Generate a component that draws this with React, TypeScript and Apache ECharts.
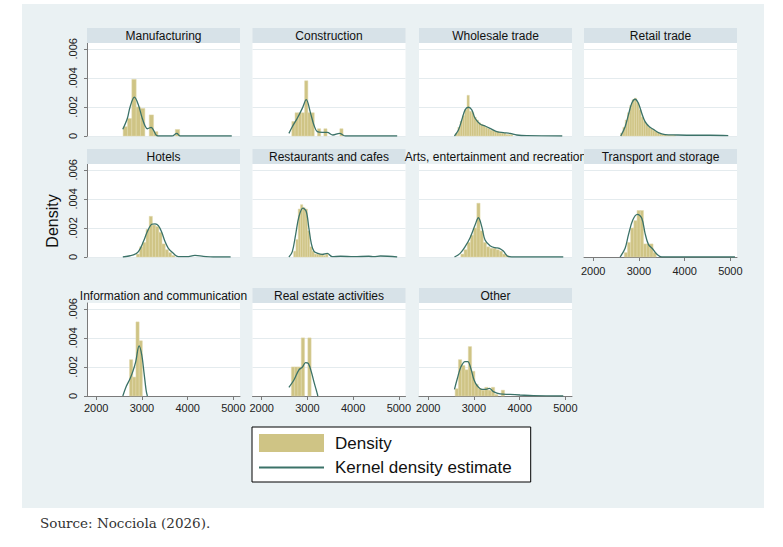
import React, { useEffect, useRef } from 'react';
import * as echarts from 'echarts';

// panel titles, in reading order (4 per row)
const panelTitles = [
  'Manufacturing', 'Construction', 'Wholesale trade', 'Retail trade',
  'Hotels', 'Restaurants and cafes', 'Arts, entertainment and recreation', 'Transport and storage',
  'Information and communication', 'Real estate activities', 'Other',
];

const xTickValues = [2000, 3000, 4000, 5000];
const xTickLabels = ['2000', '3000', '4000', '5000'];
const yTickValues = [0, 0.002, 0.004, 0.006];
const yTickLabels = ['0', '.002', '.004', '.006'];

// histogram bins: first edge and width per panel
const binStarts = [2590, 2660, 2600, 2600, 2880, 2700, 2715, 2680, 2730, 2650, 2590];
const binWidths = [95, 70, 50, 50, 70, 50, 70, 70, 70, 72, 72];

// bar heights (density)
const histManufacturing = [0.00064, 0.0012, 0.0039, 0.002, 0.0019, 0, 0.00145, 0.0003, 0, 0, 0, 0, 0.00045];
const histConstruction = [0.001, 0.0016, 0.0016, 0.0016, 0.0038, 0.0016, 0.0016, 0, 0.0005, 0, 0.0005, 0, 0, 0, 0, 0.0005];
const histWholesale = [0.0002, 0.0006, 0.001, 0.0014, 0.0018, 0.0028, 0.0017, 0.0016, 0.0013, 0.0011, 0.0009, 0.0008, 0.0007,
  0.0006, 0.0005, 0.0004, 0.0004, 0.0003, 0.0003, 0.0002, 0.0002, 0.0002, 0.0001, 0.0001, 0.0001];
const histRetail = [0.0002, 0.0006, 0.0011, 0.0016, 0.0021, 0.0025, 0.0026, 0.0023, 0.0018, 0.0013, 0.001, 0.0008, 0.0006,
  0.0005, 0.0004, 0.0003, 0.0002, 0.00015, 0.0001, 0.0001, 0.00005, 0.00005, 0.00005, 0.00005];
const histHotels = [0.0002, 0.0007, 0.001, 0.0019, 0.0028, 0.0022, 0.0021, 0.0017, 0.0009, 0.0005, 0.0003, 0.0001];
const histRestaurants = [0.0004, 0.0012, 0.0033, 0.0036, 0.0034, 0.0033, 0.0018, 0.0007, 0.0004, 0.0002, 0.0002, 0.0002, 0.0002, 0.0001, 0.0002];
const histArts = [0.0002, 0.0005, 0.001, 0.0015, 0.002, 0.0037, 0.0018, 0.001, 0.0007, 0.0006, 0.0006, 0.0005, 0.0004, 0.0002, 0.0001];
const histTransport = [0.0003, 0.001, 0.002, 0.0025, 0.0032, 0.0032, 0.0009, 0.0009, 0.0009, 0.0003];
const histInfo = [0.0025, 0.0013, 0.0051, 0.0038];
const histRealEstate = [0.002, 0.002, 0.002, 0.004, 0, 0.004];
const histOther = [0.0005, 0.0025, 0.0021, 0.0018, 0.0034, 0.0017, 0.0008, 0.0005, 0.0004, 0.0006, 0.0004, 0.0006, 0.0001, 0, 0.0004];

// kernel density estimate, [wage, density]
const kdeManufacturing = [[2583, 0.00046], [2683, 0.00122], [2742, 0.002], [2836, 0.00267], [2924, 0.00214], [2997, 0.00133],
  [3070, 0.00069], [3121, 0.0005], [3202, 0.0006], [3253, 0.00041], [3326, 0.00003], [3400, 0], [3655, 0], [3763, 0.00018],
  [3836, 0], [4965, 0]];
const kdeConstruction = [[2596, 0.00018], [2670, 0.00064], [2779, 0.00122], [2888, 0.0019], [2975, 0.0025], [3070, 0.00156],
  [3142, 0.00076], [3216, 0.0003], [3325, 0.00025], [3434, 0.00025], [3557, 0.00007], [3703, 0.00018], [3834, 0], [4963, 0]];
const kdeWholesale = [[2575, 0], [2662, 0.00041], [2735, 0.0011], [2808, 0.0018], [2880, 0.00198], [2954, 0.0018],
  [3026, 0.00122], [3135, 0.00083], [3244, 0.00069], [3353, 0.00053], [3500, 0.0003], [3644, 0.00023], [3790, 0.00018],
  [3936, 0.00007], [4155, 0.00002], [4932, 0]];
const kdeRetail = [[2604, 0], [2699, 0.00064], [2771, 0.00145], [2844, 0.00225], [2917, 0.00253], [2989, 0.00225],
  [3063, 0.00156], [3135, 0.00099], [3229, 0.00064], [3316, 0.00046], [3426, 0.00023], [3572, 0.0001], [3827, 0.00007],
  [4190, 0.00005], [4554, 0.00005], [4954, 0.00002]];
const kdeHotels = [[2583, 0], [2815, 0.00014], [2924, 0.00037], [3033, 0.00106], [3120, 0.00175], [3216, 0.00225],
  [3288, 0.00228], [3360, 0.00216], [3434, 0.0017], [3506, 0.00106], [3579, 0.0006], [3688, 0.00025], [3797, 0.00002],
  [3980, 0.00002], [4161, 0.00011], [4343, 0.00005], [4561, 0], [4940, 0]];
const kdeRestaurants = [[2596, 0], [2670, 0.00037], [2742, 0.00152], [2815, 0.00278], [2902, 0.00336], [2975, 0.00313],
  [3033, 0.00198], [3085, 0.00094], [3142, 0.00041], [3229, 0.00025], [3325, 0.00018], [3434, 0.00025], [3543, 0.00002],
  [3725, 0.00005], [4015, 0.00002], [4343, 0.00005], [4452, 0.00002], [4598, 0.00007], [4963, 0]];
const kdeArts = [[2575, 0], [2699, 0.00025], [2808, 0.00071], [2917, 0.00133], [3026, 0.0022], [3099, 0.0027], [3172, 0.00209],
  [3244, 0.00117], [3353, 0.00078], [3463, 0.00064], [3557, 0.0006], [3644, 0.00041], [3732, 0.00007], [3827, 0], [4954, 0]];
const kdeTransport = [[2589, 0], [2699, 0.0006], [2771, 0.00152], [2866, 0.00255], [2967, 0.00294], [3063, 0.00267],
  [3135, 0.00163], [3208, 0.00087], [3303, 0.00055], [3390, 0.0002], [3499, 0], [5100, 0]];
const kdeInfo = [[2583, 0], [2655, 0.00064], [2728, 0.0011], [2801, 0.00168], [2866, 0.00237], [2939, 0.00345],
  [2997, 0.00283], [3048, 0.00156], [3092, 0.00041], [3120, 0]];
const kdeRealEstate = [[2596, 0.0006], [2706, 0.0011], [2815, 0.0018], [2888, 0.00198], [2961, 0.0023], [3019, 0.00225],
  [3085, 0.00168], [3142, 0.00099], [3194, 0.00041], [3229, 0]];
const kdeOther = [[2575, 0.00046], [2640, 0.00122], [2713, 0.00198], [2808, 0.00237], [2866, 0.00237], [2932, 0.00191],
  [3004, 0.0011], [3076, 0.00069], [3172, 0.00046], [3266, 0.00046], [3338, 0.00053], [3426, 0.0003], [3572, 0.00014],
  [3790, 0.00011], [4008, 0.00007], [4299, 0.00002], [4954, 0]];

const histograms = [histManufacturing, histConstruction, histWholesale, histRetail, histHotels, histRestaurants,
  histArts, histTransport, histInfo, histRealEstate, histOther];
const kdes = [kdeManufacturing, kdeConstruction, kdeWholesale, kdeRetail, kdeHotels, kdeRestaurants,
  kdeArts, kdeTransport, kdeInfo, kdeRealEstate, kdeOther];

// layout
const colLefts = [87, 252.5, 419, 584];
const plotTops = [43, 164, 303];
const plotW = 153;
const plotH = 93;
const stripH = 15;
const xMin = 1800;
const xMax = 5145;
const yMax = 0.0064;

const barColor = '#cfc485';
const lineColor = '#3b7268';
const bgColor = '#eaf1f3';
const stripColor = '#d7e2e8';
const axisColor = '#7a7a7a';
const font = '"Liberation Sans", Arial, Helvetica, sans-serif';

const labelFor = (values: number[], labels: string[]) => (v: number) => {
  const k = values.findIndex((t) => Math.abs(t - v) < 1e-9);
  return k >= 0 ? labels[k] : '';
};

const App: React.FC = () => {
  const chartRef = useRef<HTMLDivElement>(null);

  useEffect(() => {
    const chart = echarts.init(chartRef.current!, null, { renderer: 'svg' });

    const grids: any[] = [];
    const xAxes: any[] = [];
    const yAxes: any[] = [];
    const series: any[] = [];
    const graphics: any[] = [
      { type: 'rect', silent: true, z: -10, shape: { x: 22, y: 4, width: 742, height: 504 }, style: { fill: bgColor } },
    ];

    panelTitles.forEach((title, i) => {
      const row = Math.floor(i / 4);
      const col = i % 4;
      const left = colLefts[col];
      const top = plotTops[row];
      const hasX = row === 2 || i === 7;
      const hasY = col === 0;

      grids.push({ left, top, width: plotW, height: plotH, show: true, backgroundColor: '#fff', borderWidth: 0 });

      xAxes.push({
        gridIndex: i, type: 'value', min: xMin, max: xMax,
        axisLine: { show: hasX, onZero: false, lineStyle: { color: axisColor } },
        axisTick: { show: hasX, length: 4, customValues: xTickValues, lineStyle: { color: axisColor } },
        axisLabel: {
          show: hasX, customValues: xTickValues, formatter: labelFor(xTickValues, xTickLabels),
          margin: row === 2 ? 6 : 8, fontSize: 11, color: '#222', fontFamily: font,
        },
        splitLine: { show: false },
      });

      yAxes.push({
        gridIndex: i, type: 'value', min: 0, max: yMax, interval: 0.002,
        axisLine: { show: hasY, onZero: false, lineStyle: { color: axisColor } },
        axisTick: { show: hasY, length: 3, customValues: yTickValues, lineStyle: { color: axisColor } },
        axisLabel: {
          show: hasY, customValues: yTickValues, formatter: labelFor(yTickValues, yTickLabels),
          rotate: 90, margin: 9, fontSize: 11, color: '#222', fontFamily: font,
        },
        splitLine: { show: true, lineStyle: { color: '#e4ebee', width: 1 } },
      });

      const bars = histograms[i]
        .map((h, k) => [binStarts[i] + k * binWidths[i], binStarts[i] + (k + 1) * binWidths[i], h])
        .filter((d) => d[2] > 0);

      series.push({
        type: 'custom', name: 'Density', xAxisIndex: i, yAxisIndex: i,
        data: bars, encode: { x: [0, 1], y: 2 },
        itemStyle: { color: barColor },
        renderItem: (_params: any, api: any) => {
          const p0 = api.coord([api.value(0), 0]);
          const p1 = api.coord([api.value(1), api.value(2)]);
          return {
            type: 'rect',
            shape: { x: p0[0], y: p1[1], width: p1[0] - p0[0], height: p0[1] - p1[1] },
            style: { fill: barColor, stroke: '#e0d9ad', lineWidth: 0.5 },
          };
        },
      });

      series.push({
        type: 'line', name: 'Kernel density estimate', xAxisIndex: i, yAxisIndex: i,
        data: kdes[i], smooth: 0.35, symbol: 'none', z: 3,
        lineStyle: { color: lineColor, width: 1.3 }, itemStyle: { color: lineColor },
      });

      // strip with the panel title; long titles overflow and get no strip
      if (title.length < 28) {
        graphics.push({
          type: 'rect', silent: true, z: 1,
          shape: { x: left, y: top - stripH, width: plotW, height: stripH }, style: { fill: stripColor },
        });
      }
      graphics.push({
        type: 'text', silent: true, z: 1, x: left + plotW / 2, y: top - stripH / 2,
        style: { text: title, font: `12px ${font}`, fill: '#111', align: 'center', verticalAlign: 'middle' },
      });
    });

    graphics.push({
      type: 'text', silent: true, z: 1, x: 52, y: 221, rotation: Math.PI / 2,
      style: { text: 'Density', font: `16px ${font}`, fill: '#111', align: 'center', verticalAlign: 'middle' },
    });
    graphics.push({
      type: 'text', silent: true, z: 1, x: 40, y: 523,
      style: { text: 'Source: Nocciola (2026).', font: '13.5px "DejaVu Serif", serif', fill: '#333', verticalAlign: 'middle' },
    });

    chart.setOption({
      animation: false,
      backgroundColor: '#fff',
      grid: grids,
      xAxis: xAxes,
      yAxis: yAxes,
      series,
      graphic: graphics,
      legend: {
        left: 252, top: 427, orient: 'vertical',
        itemWidth: 65, itemHeight: 18, itemGap: 7,
        padding: [7, 19, 6, 6],
        backgroundColor: '#fff', borderColor: '#000', borderWidth: 1, borderRadius: 0,
        selectedMode: false,
        textStyle: { fontSize: 17, color: '#111', fontFamily: font, padding: [0, 0, 0, 6] },
        data: [
          { name: 'Density', icon: 'rect' },
          {
            name: 'Kernel density estimate',
            itemStyle: { color: 'rgba(0,0,0,0)', borderColor: 'rgba(0,0,0,0)', borderWidth: 0 },
          },
        ],
      },
    });

    return () => {
      chart.dispose();
    };
  }, []);

  return <div ref={chartRef} style={{ position: 'absolute', left: 0, top: 0, width: 783, height: 547 }} />;
};

export default App;
